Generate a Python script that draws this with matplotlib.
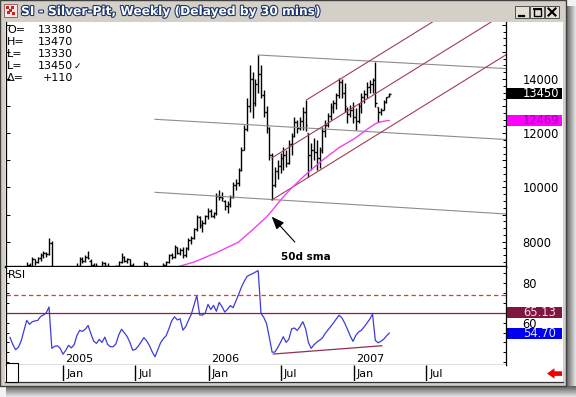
import numpy as np
import pandas as pd
import matplotlib
matplotlib.use("Agg")
import matplotlib.pyplot as plt
import matplotlib.dates as mdates
import matplotlib.ticker as mticker
import matplotlib.transforms as mtrans
import matplotlib.patheffects as pe
from matplotlib.patches import Rectangle, Polygon
from matplotlib.colors import LinearSegmentedColormap

plt.rcParams['font.family'] = ['DejaVu Sans']

W, H = 576, 397

# ---- data -------------------------------------------------------------
title = "SI - Silver-Pit, Weekly (Delayed by 30 mins)"
dates = pd.date_range("2004-08-20", periods=137, freq="W-FRI")

opens = [6700, 6750, 6700, 6600, 6850, 6900, 7000, 7150, 7100, 7350,
         7250, 7400, 7500, 7600, 7550, 7950, 6850, 6650, 6800, 6850,
         6800, 6500, 6650, 6700, 6800, 7100, 7350, 7300, 7450, 7300,
         7150, 7050, 6950, 6900, 7200, 7100, 7000, 6950, 7050, 7100,
         7250, 7450, 7300, 7350, 7150, 7050, 6900, 6950, 7000, 7200,
         7050, 6950, 6850, 6900, 6950, 7000, 7150, 7250, 7500, 7450,
         7800, 7600, 7700, 7500, 7750, 8050, 8150, 8450, 8900, 8600,
         8700, 8950, 9150, 8950, 9050, 9700, 9650, 9500, 9300, 9400,
         9650, 10100, 10150, 10650, 11400, 12150, 13000, 14000, 13100, 13800,
         14200, 13400, 12800, 12200, 11200, 10100, 10600, 10800, 11100, 11200,
         10900, 11600, 11900, 12400, 12200, 12450, 12800, 12000, 11200, 11400,
         11300, 11100, 11400, 12100, 12300, 12650, 12950, 13100, 13400, 13900,
         13500, 12900, 12700, 12850, 12600, 12450, 13000, 13350, 13450, 13700,
         13800, 13950, 12950, 12800, 12850, 13150, 13380]
highs = [6800, 6850, 6800, 6900, 6950, 7050, 7250, 7230, 7420, 7380,
         7450, 7580, 7650, 7620, 8150, 8020, 7000, 6900, 6950, 6950,
         6850, 6750, 6850, 6900, 7200, 7420, 7450, 7500, 7650, 7350,
         7200, 7220, 7050, 7300, 7250, 7200, 7050, 7100, 7150, 7300,
         7600, 7480, 7400, 7350, 7200, 7050, 7000, 7050, 7270, 7200,
         7120, 7000, 7000, 7050, 7050, 7220, 7300, 7550, 7600, 7880,
         7820, 7780, 7820, 7800, 8150, 8200, 8500, 9000, 8950, 8800,
         9000, 9250, 9200, 9100, 9800, 9920, 9850, 9550, 9500, 9730,
         10200, 10300, 10720, 11500, 12300, 13300, 14500, 14250, 14000, 14880,
         14500, 13600, 13000, 12230, 11280, 10760, 11000, 11280, 11500, 11390,
         11750, 12000, 12600, 12500, 12600, 12970, 13230, 12000, 11650, 11830,
         11750, 11500, 12230, 12500, 12750, 13120, 13230, 13500, 14040, 14000,
         13850, 12970, 13040, 13150, 12930, 13120, 13480, 13600, 13890, 13950,
         14040, 14630, 12970, 12930, 13230, 13340, 13470]
lows = [6600, 6650, 6500, 6550, 6700, 6800, 6950, 7020, 7080, 7150,
        7200, 7300, 7400, 7420, 7500, 6700, 6500, 6550, 6700, 6700,
        6400, 6400, 6550, 6600, 6750, 7000, 7200, 7250, 7350, 7050,
        6950, 6950, 6800, 6850, 7000, 6950, 6850, 6900, 6950, 7050,
        7200, 7250, 7200, 7100, 7000, 6850, 6800, 6850, 6950, 7000,
        6900, 6800, 6750, 6800, 6850, 6950, 7050, 7200, 7350, 7400,
        7550, 7500, 7400, 7450, 7700, 7900, 8100, 8400, 8500, 8370,
        8650, 8850, 8900, 8880, 9000, 9550, 9500, 9180, 9070, 9290,
        9600, 9900, 10050, 10600, 11390, 12100, 12800, 12560, 13000, 13500,
        13300, 12600, 12000, 11000, 9550, 10030, 10300, 10540, 10650, 10760,
        10850, 11200, 11870, 12010, 12120, 12120, 12100, 10400, 10650, 11020,
        10650, 10700, 11280, 11870, 12230, 12500, 12750, 12900, 13300, 13300,
        12790, 12380, 12600, 12380, 12120, 12380, 12750, 13120, 13300, 13480,
        13480, 12970, 12420, 12670, 12850, 13120, 13330]
closes = [6750, 6700, 6600, 6850, 6900, 7000, 7150, 7100, 7350, 7250,
          7400, 7500, 7600, 7550, 7950, 6850, 6650, 6800, 6850, 6800,
          6500, 6650, 6700, 6800, 7100, 7350, 7300, 7450, 7400, 7150,
          7050, 7100, 6900, 7200, 7100, 7000, 6950, 7050, 7100, 7250,
          7450, 7300, 7350, 7150, 7050, 6900, 6950, 7000, 7200, 7050,
          6950, 6850, 6900, 6950, 7000, 7150, 7250, 7500, 7450, 7800,
          7600, 7700, 7500, 7750, 8050, 8150, 8450, 8900, 8600, 8700,
          8950, 9150, 8950, 9050, 9700, 9650, 9600, 9300, 9400, 9650,
          10100, 10150, 10650, 11400, 12150, 13000, 14000, 13100, 13800, 14200,
          13400, 12800, 12300, 11200, 10100, 10600, 10800, 11100, 11200, 10900,
          11600, 11900, 12400, 12200, 12450, 12800, 12300, 11200, 11400, 11300,
          11100, 11400, 12100, 12300, 12650, 12950, 13100, 13400, 13900, 13500,
          13000, 12700, 12850, 12600, 12450, 13000, 13350, 13450, 13700, 13800,
          13950, 13100, 12800, 12850, 13150, 13340, 13450]

rsi = [52.5, 49.0, 46.3, 47.5, 50.7, 56.0, 61.2, 59.2, 60.5, 60.9,
       61.2, 63.2, 63.9, 65.0, 68.0, 47.0, 48.0, 48.3, 47.0, 44.0,
       46.0, 48.5, 47.2, 48.8, 53.5, 56.1, 55.6, 56.7, 58.6, 54.5,
       50.7, 49.5, 51.5, 50.0, 52.7, 49.0, 47.8, 47.8, 49.3, 53.8,
       56.7, 54.9, 53.0, 50.0, 46.0, 46.5, 48.1, 50.3, 52.4, 50.8,
       48.4, 45.2, 42.7, 46.2, 49.8, 51.9, 53.4, 57.0, 61.0, 63.0,
       61.4, 62.0, 56.2, 58.0, 61.2, 64.2, 69.0, 73.8, 64.0, 63.8,
       64.9, 69.3, 66.7, 68.8, 65.8, 70.3, 68.2, 65.4, 66.8, 68.7,
       67.6, 71.0, 74.4, 78.1, 81.0, 83.5, 84.3, 84.9, 85.7, 86.4,
       64.7, 62.7, 59.5, 52.5, 45.0, 45.1, 47.4, 50.0, 52.9, 50.0,
       51.6, 56.9, 57.3, 56.1, 58.0, 60.5, 57.0, 50.0, 47.0, 48.8,
       50.1, 51.1, 52.2, 54.5, 56.3, 58.1, 59.9, 61.9, 63.8, 62.5,
       59.9, 56.7, 53.3, 50.5, 53.6, 55.3, 56.2, 57.9, 59.8, 61.8,
       64.4, 51.0, 49.8, 50.6, 51.6, 53.3, 54.7]

sma_first = 58          # first bar with a plotted average
sma = [7020, 7045, 7070, 7100, 7130, 7160, 7190, 7220, 7250, 7290,
       7330, 7375, 7420, 7465, 7510, 7550, 7590, 7640, 7690, 7740,
       7790, 7840, 7890, 7940, 7990, 8080, 8170, 8260, 8350, 8440,
       8535, 8630, 8725, 8820, 8915, 9030, 9150, 9280, 9410, 9530,
       9650, 9760, 9870, 9980, 10080, 10180, 10280, 10380, 10470, 10560,
       10650, 10740, 10830, 10910, 11000, 11080, 11160, 11240, 11310, 11390,
       11470, 11530, 11590, 11650, 11710, 11770, 11840, 11910, 11990, 12060,
       12140, 12210, 12280, 12350, 12390, 12420, 12440, 12460, 12469]

# trend lines drawn on the chart (start date, start value, value at right edge)
gray_dates = ["2006-05-05", "2005-08-19", "2005-08-19"]
gray_start = [14885, 12514, 9822]
gray_end = [14384, 11769, 9022]
chan_dates = ["2006-06-08", "2006-06-08", "2006-09-03"]
chan_start = [9538, 11087, 13226]
chan_end = [14893, 16442, 17781]
rsi_trend_dates = ["2006-06-12", "2007-03-11"]
rsi_trend_vals = [44.1, 48.3]
rsi_level = 65.13
rsi_dash = 74

arrow_head = ("2006-06-08", 8922)
arrow_tail = ("2006-08-05", 7989)
arrow_text = ("2006-09-01", 7436)

x_range = ["2004-08-10", "2008-01-17"]
price_range = (7067, 16102)
rsi_range = (38.53, 88.27)
price_labels = [8000, 10000, 12000, 14000]
rsi_labels = [60, 80]
month_ticks = ["2005-01-01", "2005-07-01", "2006-01-01", "2006-07-01", "2007-01-01", "2007-07-01"]
month_labels = ["Jan", "Jul", "Jan", "Jul", "Jan", "Jul"]
year_ticks = ["2005-01-01", "2006-01-01", "2007-01-01"]
year_labels = ["2005", "2006", "2007"]


def dnum(d):
    return mdates.date2num(pd.to_datetime(d))


def box(x0, y0, x1, y1):
    return [x0 / W, 1 - y1 / H, (x1 - x0) / W, (y1 - y0) / H]


fig = plt.figure(figsize=(W / 100, H / 100), dpi=100)
fig.patch.set_facecolor("#f2f2f2")

# ---- window chrome -----------------------------------------------------
bg = fig.add_axes([0, 0, 1, 1], zorder=0)
bg.axis("off")
shadow = LinearSegmentedColormap.from_list("sh", ["#5e5e5e", "#e6e6e6"])
bg.imshow(np.linspace(0, 1, 32)[None, :], extent=(566, 576, 397, 6), cmap=shadow, aspect="auto")
bg.imshow(np.linspace(0, 1, 32)[:, None], extent=(6, 576, 397, 386), cmap=shadow, aspect="auto")
bg.add_patch(Rectangle((0, 0), 566, 386, fc="#d4d0c8", ec="#404040", lw=1))
bg.add_patch(Rectangle((5, 22), 558, 360, fc="white", ec="none"))
tbar = LinearSegmentedColormap.from_list("tb", ["#96b8e8", "#d0e0f6"])
bg.imshow(np.linspace(0, 1, 256)[None, :], extent=(3, 563, 20, 2), cmap=tbar, aspect="auto")
bg.plot([5, 563], [381.5, 381.5], color="#303030", lw=0.9)
bg.set_xlim(0, W)
bg.set_ylim(H, 0)

# icon
bg.add_patch(Rectangle((4, 4), 13, 13, fc="#f4e8e8", ec="#905050", lw=0.6))
for ix, iy in [(6, 6), (11, 6), (7, 11), (12, 12), (9, 9)]:
    bg.add_patch(Rectangle((ix, iy), 3, 3, fc="#d02020", ec="none"))
bg.text(21, 11.5, title, color="white", fontsize=8.8, fontweight="bold", va="center", ha="left",
        path_effects=[pe.withStroke(linewidth=1.6, foreground="#1c3468")])

# title buttons
for bx in (515, 530, 545):
    bg.add_patch(Rectangle((bx, 6), 14, 12, fc="#e4e0d8", ec="#505050", lw=0.7))
bg.plot([518.5, 523.5], [15.5, 15.5], color="black", lw=1.6)
bg.add_patch(Rectangle((533.5, 8.5), 7, 7, fc="none", ec="black", lw=1.0))
bg.plot([533.5, 540.5], [9, 9], color="black", lw=1.4)
bg.plot([548.5, 555.5], [8.5, 15.5], color="black", lw=1.5)
bg.plot([548.5, 555.5], [15.5, 8.5], color="black", lw=1.5)

# ---- price panel -------------------------------------------------------
ax = fig.add_axes(box(6, 22, 506, 267), zorder=2)
ax_rsi = fig.add_axes(box(6, 267, 506, 365), zorder=2)
ax_date = fig.add_axes(box(6, 365, 506, 381), zorder=2)
for a in (ax, ax_rsi, ax_date):
    a.set_xlim(dnum(x_range[0]), dnum(x_range[1]))
    a.tick_params(axis="x", which="both", bottom=False, top=False, labelbottom=False)

xd = mdates.date2num(dates)
ax.vlines(xd, lows, highs, color="black", lw=1.0)
ax.hlines(opens, xd - 3.5, xd, color="black", lw=1.0)
ax.hlines(closes, xd, xd + 3.5, color="black", lw=1.0)

right_edge = dnum(x_range[1])
for d0, v0, v1 in zip(gray_dates, gray_start, gray_end):
    ax.plot([dnum(d0), right_edge], [v0, v1], color="#8c8c8c", lw=0.8)
for d0, v0, v1 in zip(chan_dates, chan_start, chan_end):
    ax.plot([dnum(d0), right_edge], [v0, v1], color="#a03c58", lw=0.8)

ax.plot(xd[sma_first:], sma, color="#ee44ee", lw=1.0)

ax.annotate("", xy=(dnum(arrow_head[0]), arrow_head[1]), xytext=(dnum(arrow_tail[0]), arrow_tail[1]),
            arrowprops=dict(arrowstyle="-|>,head_length=0.55,head_width=0.22", color="black",
                            lw=0.8, shrinkA=0, shrinkB=0, mutation_scale=14))
ax.text(dnum(arrow_text[0]), arrow_text[1], "50d sma", ha="center", va="center",
        fontsize=7.5, fontweight="bold")

ax.set_ylim(*price_range)
ax.yaxis.set_major_locator(mticker.MultipleLocator(1000))
ax.yaxis.set_minor_locator(mticker.MultipleLocator(250))
ax.yaxis.set_major_formatter(mticker.FuncFormatter(
    lambda v, p: f"{v:.0f}" if round(v) in price_labels else ""))
ax.tick_params(axis="y", which="both", direction="in", left=True, right=True,
               labelleft=False, labelright=True, labelsize=8.3, pad=12, width=0.7)
ax.tick_params(axis="y", which="major", length=3)
ax.tick_params(axis="y", which="minor", length=2, left=False)
ax.spines["top"].set_visible(False)
ax.spines["bottom"].set_linewidth(1.7)
for s in ("left", "right"):
    ax.spines[s].set_linewidth(0.9)

# ---- RSI panel ---------------------------------------------------------
ax_rsi.plot(xd, rsi, color="#3c3cdc", lw=0.9)
ax_rsi.axhline(rsi_level, color="#8b1c48", lw=0.9)
ax_rsi.axhline(rsi_dash, color="#ff2a2a", lw=0.9, ls=(0, (3.5, 2.5)))
ax_rsi.plot(dnum(rsi_trend_dates), rsi_trend_vals, color="#903050", lw=0.9)
ax_rsi.set_ylim(*rsi_range)
ax_rsi.yaxis.set_major_locator(mticker.MultipleLocator(5))
ax_rsi.yaxis.set_major_formatter(mticker.FuncFormatter(
    lambda v, p: f"{v:.0f}" if round(v) in rsi_labels else ""))
ax_rsi.tick_params(axis="y", which="major", direction="in", left=True, right=True, length=2.5,
                   width=0.7, labelleft=False, labelright=True, labelsize=8.3, pad=12)
ax_rsi.spines["top"].set_visible(False)
for s in ("left", "right", "bottom"):
    ax_rsi.spines[s].set_linewidth(0.9)
ax_rsi.text(0.003, 0.97, "RSI", transform=ax_rsi.transAxes, ha="left", va="top", fontsize=8)
for d, lab in zip(year_ticks, year_labels):
    ax_rsi.annotate(lab, (dnum(d), 0), xycoords=ax_rsi.get_xaxis_transform(),
                    xytext=(1.5, 1.8), textcoords="offset points", ha="left", va="baseline", fontsize=8)

# ---- date strip --------------------------------------------------------
ax_date.set_yticks([])
for s in ax_date.spines.values():
    s.set_visible(False)
ax_date.vlines(dnum(month_ticks), 0, 1, transform=ax_date.get_xaxis_transform(), color="black", lw=1.0)
for d, lab in zip(month_ticks, month_labels):
    ax_date.annotate(lab, (dnum(d), 0.45), xycoords=ax_date.get_xaxis_transform(),
                     xytext=(2, 0), textcoords="offset points", ha="left", va="center", fontsize=8)


# ---- last-value boxes on the right axis -------------------------------
def value_box(axis, val, text, fc, tc, h):
    tr = mtrans.blended_transform_factory(axis.transAxes, axis.transData)
    axis.add_patch(Rectangle((501 / 500, val - h / 2), 55 / 500, h, transform=tr,
                             fc=fc, ec="none", clip_on=False, zorder=5))
    axis.text(517 / 500, val, text, transform=tr, color=tc, fontsize=8.3,
              ha="left", va="center", clip_on=False, zorder=6)


value_box(ax, closes[-1], f"{closes[-1]}", "black", "white", 405)
value_box(ax, sma[-1], f"{sma[-1]}", "#ff00ff", "#9a00a8", 405)
value_box(ax_rsi, rsi_level, f"{rsi_level:.2f}", "#7e1640", "#ffd6e6", 5.6)
value_box(ax_rsi, rsi[-1], f"{rsi[-1]:.2f}", "#0000ee", "#dde6ff", 5.6)

# ---- overlay: OHLC readout, corner box, scroll arrow -------------------
ov = fig.add_axes([0, 0, 1, 1], zorder=6)
ov.axis("off")
ov.set_xlim(0, W)
ov.set_ylim(H, 0)
readout_labels = ["O=", "H=", "L=", "L=", "\u0394="]
readout_vals = [f"{opens[-1]}", f"{highs[-1]}", f"{lows[-1]}", f"{closes[-1]}",
                f"{closes[-1] - closes[-2]:+d}"]
for i, (lab, val) in enumerate(zip(readout_labels, readout_vals)):
    yy = 30 + i * 12.1
    ov.text(7, yy, lab, ha="left", va="center", fontsize=8)
    ov.text(73, yy, val, ha="right", va="center", fontsize=8)
ov.text(74, 30 + 3 * 12.1, "\u2713", ha="left", va="center", fontsize=6.5)

ov.add_patch(Rectangle((6, 363), 12, 19, fc="white", ec="black", lw=0.8))
ov.add_patch(Polygon([(547, 373.5), (554.5, 368.3), (554.5, 371.3), (562, 371.3),
                      (562, 375.9), (554.5, 375.9), (554.5, 378.7)], closed=True,
                     fc="#ee0000", ec="none"))

fig.savefig("out.png", dpi=100)
